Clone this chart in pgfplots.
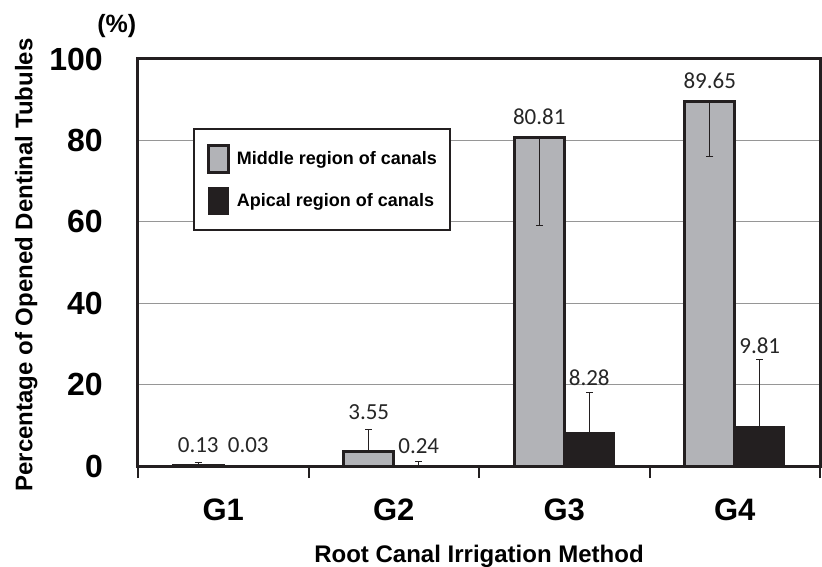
\documentclass[border=0pt]{standalone}
\usepackage{fontspec}
\setmainfont{Liberation Sans}
\newfontfamily\calfont{Carlito}
\usepackage{pgfplots}
\pgfplotsset{compat=1.18}
\usepackage{pgfplotstable}
\definecolor{midgray}{RGB}{178,179,183}
\definecolor{darkfill}{RGB}{35,31,32}
\definecolor{gridgray}{RGB}{150,150,150}
\definecolor{framec}{RGB}{35,31,32}

\pgfplotstableread{
x y ep em off lab
0 0.13 0.7 0 12.5 0.13
1 3.55 5.5 0 31.6 3.55
2 80.81 0 21.7 13 80.81
3 89.65 0 13.65 13 89.65
}\middata
\pgfplotstableread{
x y ep em off lab
0 0.03 0 0 13 0.03
1 0.24 0.75 0 12 0.24
2 8.28 9.8 0 47 8.28
3 9.81 16.4 0 73 9.81
}\apidata

\begin{document}
\begin{tikzpicture}
\begin{axis}[
  name=ax,
  scale only axis,
  width=682pt, height=407pt,
  xmin=-0.5, xmax=3.5, ymin=0, ymax=100,
  ybar=0pt, bar width=50pt,
  axis line style={line width=3pt, framec},
  xtick={0,1,2,3},
  xticklabels={G1,G2,G3,G4},
  minor xtick={-0.5,0.5,1.5,2.5,3.5},
  xtick align=outside,
  tick pos=left,
  major tick length=0pt,
  minor tick length=12pt,
  minor x tick style={line width=2pt, framec},
  ytick={0,20,40,60,80,100},
  ymajorgrids,
  grid style={line width=1.2pt, gridgray},
  /pgf/number format/assume math mode=true,
  xticklabel style={anchor=center, yshift=-44pt, inner sep=0pt, font=\bfseries\fontsize{31}{31}\selectfont},
  yticklabel style={anchor=east, xshift=-35pt, inner sep=0pt, font=\bfseries\fontsize{32}{32}\selectfont},
  xlabel={Root Canal Irrigation Method},
  ylabel={Percentage of Opened Dentinal Tubules},
  xlabel style={at={(axis description cs:0.5,-0.222)}, anchor=center, font=\bfseries\fontsize{24}{24}\selectfont},
  ylabel style={at={(axis description cs:-0.164,0.494)}, anchor=center, font=\bfseries\fontsize{24}{24}\selectfont},
  legend image code/.code={\draw[#1] (0pt,-13.5pt) rectangle (20pt,13.5pt);},
  legend style={at={(axis description cs:0.0806,0.830)}, anchor=north west,
    draw=framec, line width=2pt, inner xsep=13pt, inner ysep=15pt, row sep=13pt,
    column sep=7pt,
    font=\bfseries\fontsize{18}{18}\selectfont,
    nodes={inner sep=0pt, anchor=west}},
  legend cell align=left,
  nodes near coords,
  point meta=explicit symbolic,
  visualization depends on={\thisrow{off} \as \laboff},
  nodes near coords style={anchor=base, yshift=\laboff pt, inner sep=0pt, text=black!85, font=\calfont\fontsize{23}{23}\selectfont},
  clip=false,
]
\addplot[fill=midgray, draw=framec, line width=3pt,
  error bars/.cd, y dir=both, y explicit,
  error bar style={line width=1pt, framec},
  error mark options={rotate=90, mark size=3.5pt, line width=1pt, framec}]
  table[x=x, y=y, y error plus=ep, y error minus=em, meta=lab]{\middata};
\addplot[fill=darkfill, draw=darkfill, line width=1pt,
  error bars/.cd, y dir=both, y explicit,
  error bar style={line width=1pt, framec},
  error mark options={rotate=90, mark size=3.5pt, line width=1pt, framec}]
  table[x=x, y=y, y error plus=ep, y error minus=em, meta=lab]{\apidata};
\legend{Middle region of canals, Apical region of canals}
\node[font=\bfseries\fontsize{25}{25}\selectfont] at (axis description cs:-0.031,1.081) {(\%)};
\end{axis}
\pgfresetboundingbox
\path[use as bounding box] ([xshift=-138pt,yshift=-100pt]ax.south west) rectangle ([xshift=2pt,yshift=59pt]ax.north east);
\end{tikzpicture}
\end{document}
